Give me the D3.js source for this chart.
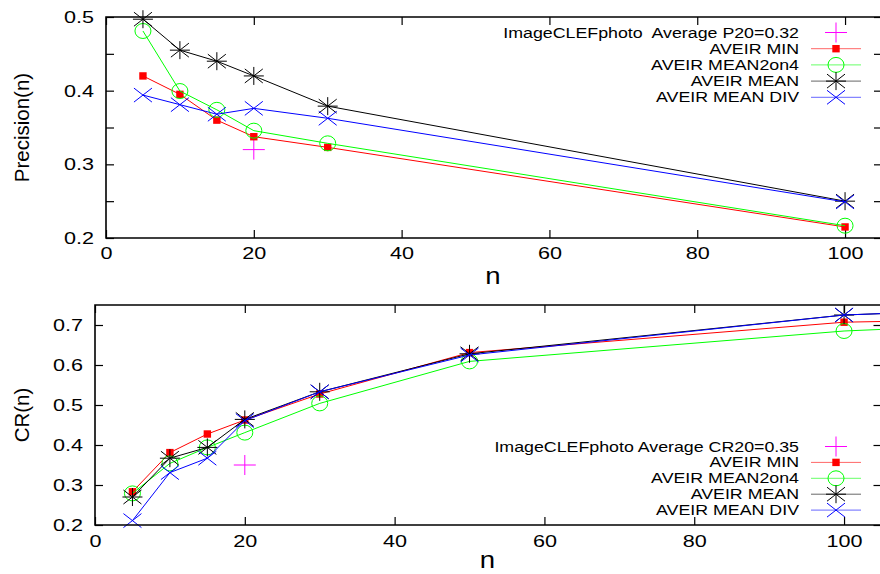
<!DOCTYPE html>
<html>
<head>
<meta charset="utf-8">
<script src="https://cdn.jsdelivr.net/npm/d3@7"></script>
<style>
  body { margin: 0; background: #fff; }
  text { font-family: "Liberation Sans", Arial, sans-serif; fill: #000; }
</style>
</head>
<body>
<div id="chart"></div>
<script>
// ---- data ----
var precN = [5, 10, 15, 20, 30, 100];
var precMin = [0.420, 0.395, 0.360, 0.3375, 0.323, 0.215];
var precMean2on4 = [0.481, 0.3995, 0.374, 0.3457, 0.3285, 0.2167];
var precMean = [0.497, 0.455, 0.440, 0.420, 0.379, 0.250];
var precMeanDiv = [0.394, 0.381, 0.368, 0.376, 0.3625, 0.249];
var precRefN = [20];
var precRef = [0.32];

var crN = [5, 10, 15, 20, 30, 50, 100, 110];
var crMin = [0.283, 0.381, 0.4275, 0.4625, 0.5275, 0.631, 0.707, 0.7105];
var crMean2on4 = [0.279, 0.354, 0.394, 0.431, 0.504, 0.609, 0.685, 0.693];
var crMean = [0.270, 0.367, 0.394, 0.464, 0.533, 0.628, 0.725, 0.732];
var crMeanDiv = [0.211, 0.331, 0.367, 0.461, 0.533, 0.625, 0.725, 0.732];
var crRefN = [20];
var crRef = [0.35];

var xTicks = [0, 20, 40, 60, 80, 100];
var precTicks = [0.2, 0.25, 0.3, 0.35, 0.4, 0.45, 0.5];
var crTicks = [0.2, 0.3, 0.4, 0.5, 0.6, 0.7];

var seriesNames = ["AVEIR MIN", "AVEIR MEAN2on4", "AVEIR MEAN", "AVEIR MEAN DIV"];
var seriesColors = ["#ff0000", "#00ff00", "#000000", "#0000ff"];
var seriesMarks = ["square", "circle", "star", "cross"];
var refColor = "#ff00ff";

var SX = 1.27; // glyphs in the picture are wider than they are tall

var svg = d3.select("#chart").append("svg")
    .attr("width", 880)
    .attr("height", 574);

// draws one marker centered at 0,0 inside g
function marker(g, kind, color) {
    if (kind == "square") {
        g.append("rect").attr("x", -3.7).attr("y", -3.7).attr("width", 7.4).attr("height", 7.4)
            .attr("fill", color);
    } else if (kind == "circle") {
        g.append("ellipse").attr("rx", 8).attr("ry", 7.5)
            .attr("fill", "none").attr("stroke", color).attr("stroke-width", 1);
    } else if (kind == "star") {
        g.append("path").attr("d", "M-10,0H10M0,-9V9M-9,-7L9,7M-9,7L9,-7")
            .attr("stroke", color).attr("stroke-width", 1).attr("fill", "none");
    } else if (kind == "cross") {
        g.append("path").attr("d", "M-9,-7L9,7M-9,7L9,-7")
            .attr("stroke", color).attr("stroke-width", 1).attr("fill", "none");
    } else if (kind == "plus") {
        g.append("path").attr("d", "M-11,0H11M0,-10V10")
            .attr("stroke", color).attr("stroke-width", 1).attr("fill", "none");
    }
}

function wideText(g, x, y, str, size, anchor) {
    return g.append("text")
        .attr("transform", "translate(" + x + "," + y + ") scale(" + SX + ",1)")
        .attr("text-anchor", anchor)
        .style("font-size", size + "px")
        .style("white-space", "pre")
        .text(str);
}

function drawPanel(opt) {
    var x = d3.scaleLinear().domain([0, 105]).range([opt.left, opt.right]);
    var y = d3.scaleLinear().domain(opt.yDomain).range([opt.bottom, opt.top]);
    var g = svg.append("g");

    var clipId = "clip" + opt.id;
    svg.append("clipPath").attr("id", clipId).append("rect")
        .attr("x", opt.left).attr("y", opt.top - 12)
        .attr("width", 880 - opt.left).attr("height", opt.bottom - opt.top + 24);

    var fmt = function (d) {
        return Math.abs(d * 10 - Math.round(d * 10)) < 1e-6 ? d3.format(".1f")(d) : "";
    };

    // axes, ticks pointing inside on all four sides
    var ax = g.append("g").attr("transform", "translate(0," + opt.bottom + ")")
        .call(d3.axisBottom(x).tickValues(xTicks).tickSize(-8).tickPadding(opt.xPad));
    g.append("g").attr("transform", "translate(0," + opt.top + ")")
        .call(d3.axisTop(x).tickValues(xTicks).tickSize(-8).tickFormat(""));
    var ay = g.append("g").attr("transform", "translate(" + opt.left + ",0)")
        .call(d3.axisLeft(y).tickValues(opt.yTicks).tickSize(-8).tickFormat(fmt));
    g.append("g").attr("transform", "translate(" + opt.right + ",0)")
        .call(d3.axisRight(y).tickValues(opt.yTicks).tickSize(-8).tickFormat(""));

    g.selectAll(".domain").remove();
    g.selectAll(".tick line").attr("stroke", "#000").attr("stroke-width", 1.2);
    g.selectAll(".tick text").style("font-size", "17px").style("font-family", null)
        .attr("fill", "#000");
    ax.selectAll(".tick text").attr("transform", "scale(" + SX + ",1)");
    ay.selectAll(".tick text").attr("x", -12 / SX).attr("transform", "scale(" + SX + ",1)");

    // series
    var plot = g.append("g").attr("clip-path", "url(#" + clipId + ")");
    var line = d3.line().x(function (d) { return x(d[0]); }).y(function (d) { return y(d[1]); });

    var refG = plot.append("g").selectAll("g")
        .data(d3.zip(opt.refN, opt.ref)).enter().append("g")
        .attr("transform", function (d) { return "translate(" + x(d[0]) + "," + y(d[1]) + ")"; });
    refG.each(function () { marker(d3.select(this), "plus", refColor); });

    opt.series.forEach(function (vals, i) {
        var pts = d3.zip(opt.n, vals);
        plot.append("path").datum(pts).attr("d", line)
            .attr("fill", "none").attr("stroke", seriesColors[i]).attr("stroke-width", 1);
        plot.append("g").selectAll("g").data(pts).enter().append("g")
            .attr("transform", function (d) { return "translate(" + x(d[0]) + "," + y(d[1]) + ")"; })
            .each(function () { marker(d3.select(this), seriesMarks[i], seriesColors[i]); });
    });

    // frame
    g.append("path")
        .attr("d", "M" + opt.right + "," + opt.top + "H" + opt.left + "V" + opt.bottom + "H" + opt.right)
        .attr("fill", "none").attr("stroke", "#000").attr("stroke-width", 1.6);

    // axis titles
    wideText(g, (opt.left + 880) / 2, opt.nY, "n", 24, "middle").attr("transform",
        "translate(" + ((opt.left + 880) / 2) + "," + opt.nY + ") scale(1.15,1)");
    g.append("text")
        .attr("transform", "translate(29," + ((opt.top + opt.bottom) / 2) + ") rotate(-90)")
        .attr("text-anchor", "middle")
        .style("font-size", "20.5px")
        .text(opt.yTitle);

    // legend
    var leg = g.append("g");
    var labels = [opt.refLabel].concat(seriesNames);
    labels.forEach(function (lab, i) {
        var ly = opt.legY + i * opt.legStep;
        wideText(leg, 799, ly + 5, lab, 14, "end");
        if (i == 0) {
            marker(leg.append("g").attr("transform", "translate(836," + ly + ")"), "plus", refColor);
        } else {
            leg.append("line").attr("x1", 811).attr("x2", 861).attr("y1", ly).attr("y2", ly)
                .attr("stroke", seriesColors[i - 1]).attr("stroke-opacity", 0.6);
            marker(leg.append("g").attr("transform", "translate(836," + ly + ")"),
                seriesMarks[i - 1], seriesColors[i - 1]);
        }
    });
}

drawPanel({
    id: "P", left: 106, right: 882, top: 17, bottom: 238,
    yDomain: [0.2, 0.5], yTicks: precTicks, xPad: 9, nY: 284,
    n: precN, series: [precMin, precMean2on4, precMean, precMeanDiv],
    refN: precRefN, ref: precRef,
    yTitle: "Precision(n)",
    refLabel: "ImageCLEFphoto  Average P20=0.32",
    legY: 32.5, legStep: 16.2
});

drawPanel({
    id: "C", left: 95, right: 881.5, top: 305, bottom: 525,
    yDomain: [0.2, 0.75], yTicks: crTicks, xPad: 10, nY: 568,
    n: crN, series: [crMin, crMean2on4, crMean, crMeanDiv],
    refN: crRefN, ref: crRef,
    yTitle: "CR(n)",
    refLabel: "ImageCLEFphoto Average CR20=0.35",
    legY: 446.5, legStep: 15.9
});
</script>
</body>
</html>
